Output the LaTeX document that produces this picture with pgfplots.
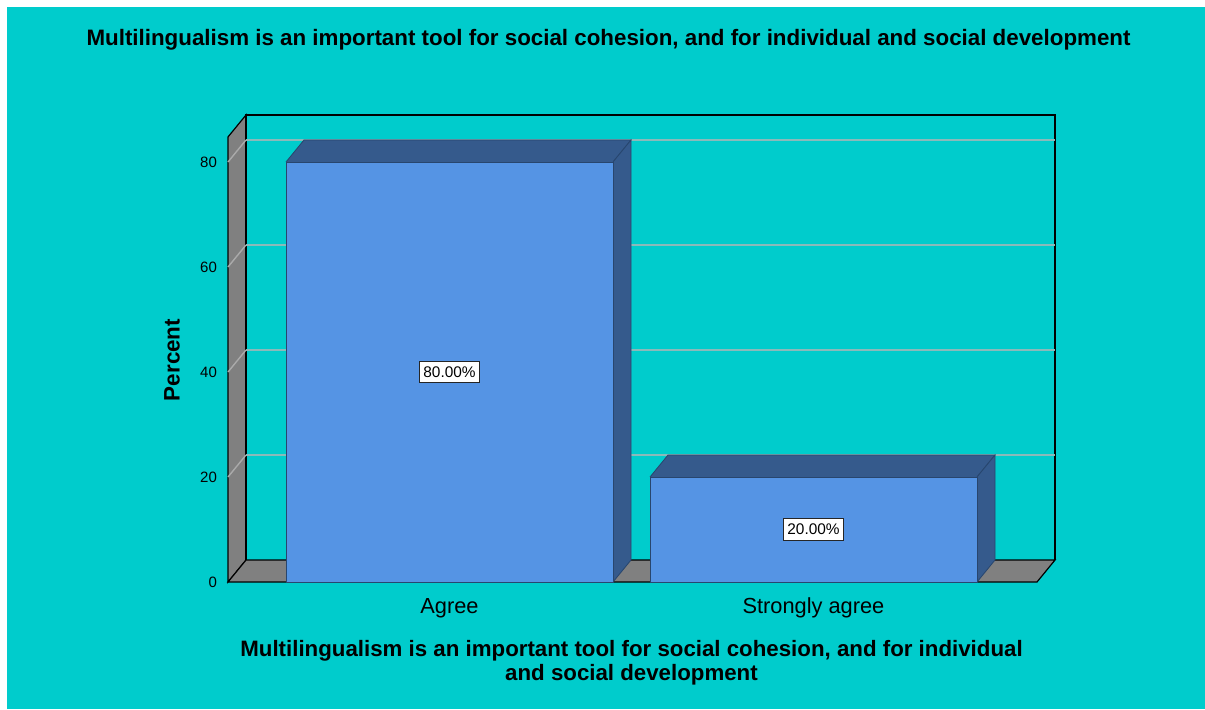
\documentclass[border=0pt]{standalone}
\usepackage{pgfplots}
\pgfplotsset{compat=1.18}
\usepackage{fontspec}
\setmainfont{Liberation Sans}

\definecolor{bg}{RGB}{0,204,204}
\definecolor{wallgray}{RGB}{128,128,128}
\definecolor{wallgrid}{RGB}{170,170,170}
\definecolor{gridc}{RGB}{138,186,186}
\definecolor{barfront}{RGB}{85,148,228}
\definecolor{barside}{RGB}{53,90,140}
\definecolor{baredge}{RGB}{40,70,110}

\begin{document}
\begin{tikzpicture}[x=0.5pt,y=0.5pt]
  % canvas and panel
  \path[use as bounding box] (0,0) rectangle (1205,709);
  \fill[white] (0,0) rectangle (1205,709);
  \fill[bg] (7,0) rectangle (1205,702);

  \begin{axis}[
    at={(114pt,63.5pt)}, anchor=south west,
    scale only axis, width=413.5pt, height=233.5pt,
    xmin=-0.60852, xmax=1.66346, ymin=0, ymax=88.95,
    clip=false,
    axis line style={draw=none},
    major tick length=0pt,
    ytick={0,20,40,60,80},
    xtick={0,1}, xticklabels={Agree,Strongly agree},
    /pgf/number format/assume math mode=true,
    yticklabel style={font=\fontsize{7.5}{9}\selectfont, xshift=-2pt},
    xticklabel style={font=\fontsize{10.9}{13}\selectfont, yshift=-4.5pt},
  ]
    % left wall and floor of the 3D frame
    \draw[fill=wallgray, draw=black, line width=0.6pt]
      (axis cs:-0.60852,0) -- (axis cs:-0.55907,4.19) -- (axis cs:-0.55907,88.95)
      -- (axis cs:-0.60852,84.76) -- cycle;
    \draw[fill=wallgray, draw=black, line width=0.6pt]
      (axis cs:-0.60852,0) -- (axis cs:1.61401,0) -- (axis cs:1.66346,4.19)
      -- (axis cs:-0.55907,4.19) -- cycle;
    % back plane border
    \draw[black, line width=0.6pt]
      (axis cs:-0.55907,4.19) -- (axis cs:-0.55907,88.95)
      -- (axis cs:1.66346,88.95) -- (axis cs:1.66346,4.19);
    % grid lines on back plane and left wall
    \pgfplotsinvokeforeach{20,40,60,80}{
      \draw[gridc, line width=0.9pt]
        (axis cs:-0.55907,#1+4.19) -- (axis cs:1.66346,#1+4.19);
      \draw[wallgrid, line width=0.7pt]
        (axis cs:-0.60852,#1) -- (axis cs:-0.55907,#1+4.19);
    }

    % bar tops and sides (depth offset 0.04945 in x, 4.19 in y)
    \addplot[fill=barside, draw=baredge, line width=0.4pt]
      coordinates {(-0.44918,80) (-0.39973,84.19) (0.49863,84.19) (0.44918,80) (-0.44918,80)};
    \addplot[fill=barside, draw=baredge, line width=0.4pt]
      coordinates {(0.44918,0) (0.49863,4.19) (0.49863,84.19) (0.44918,80) (0.44918,0)};
    \addplot[fill=barside, draw=baredge, line width=0.4pt]
      coordinates {(0.55082,20) (0.60027,24.19) (1.49863,24.19) (1.44918,20) (0.55082,20)};
    \addplot[fill=barside, draw=baredge, line width=0.4pt]
      coordinates {(1.44918,0) (1.49863,4.19) (1.49863,24.19) (1.44918,20) (1.44918,0)};

    % bar fronts
    \addplot[ybar, bar width=0.89836, fill=barfront, draw=baredge, line width=0.4pt]
      coordinates {(0,80) (1,20)};

    % value labels
    \node[fill=white, draw=black!85, line width=0.6pt, inner xsep=1.8pt, inner ysep=2.6pt,
          font=\fontsize{7.7}{9}\selectfont] at (axis cs:0,40) {80.00\%};
    \node[fill=white, draw=black!85, line width=0.6pt, inner xsep=1.8pt, inner ysep=2.6pt,
          font=\fontsize{7.7}{9}\selectfont] at (axis cs:1,10) {20.00\%};
  \end{axis}

  % titles
  \node[font=\fontsize{11.17}{13}\selectfont\bfseries] at (608.5,669)
    {Multilingualism is an important tool for social cohesion, and for individual and social development};
  \node[font=\fontsize{11.14}{12}\selectfont\bfseries, align=center] at (631.5,46)
    {Multilingualism is an important tool for social cohesion, and for individual\\and social development};
  \node[font=\fontsize{11.2}{13}\selectfont\bfseries, rotate=90] at (172,349) {Percent};
\end{tikzpicture}
\end{document}
